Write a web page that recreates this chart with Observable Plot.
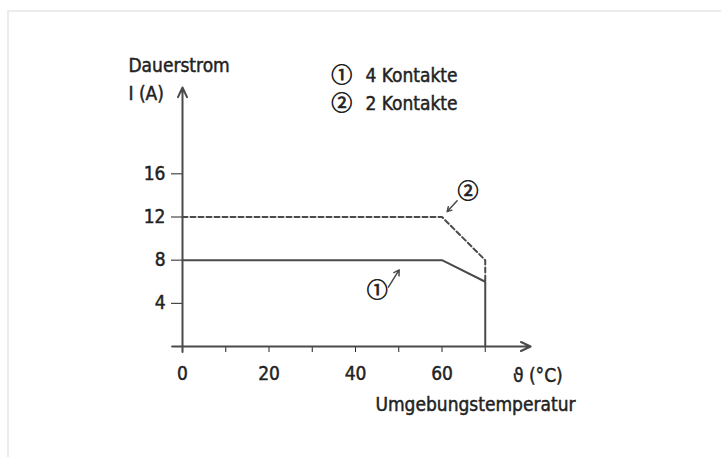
<!DOCTYPE html>
<html>
<head>
<meta charset="utf-8">
<script src="https://cdn.jsdelivr.net/npm/d3@7"></script>
<script src="https://cdn.jsdelivr.net/npm/@observablehq/plot@0.6"></script>
<style>
  html, body { margin: 0; padding: 0; background: #fff; }
  #wrap { position: relative; width: 721px; height: 457px; overflow: hidden; }
  #frame { position: absolute; left: 7px; top: 10px; width: 800px; height: 500px;
           border-top: 2px solid #ececec; border-left: 2px solid #ececec; pointer-events: none; }
  svg text { stroke: #222; stroke-width: 0.45px; }
  svg text.circ { stroke-width: 0.7px; }
</style>
</head>
<body>
<div id="wrap"><div id="frame"></div></div>
<script>
// Series: ambient temperature (°C) vs. continuous current (A)
const temp4 = [0, 60, 70, 70];
const current4 = [8, 8, 6, 0];        // ① 4 Kontakte (solid)
const temp2 = [0, 60, 70, 70];
const current2 = [12, 12, 8, 6];      // ② 2 Kontakte (dashed)

// Tick values
const xTicks = [0, 10, 20, 30, 40, 50, 60, 70];
const xTickLabels = [0, 20, 40, 60];
const yTicks = [4, 8, 12, 16];

// Text labels (in data units)
const labelTexts = ["Dauerstrom", "I (A)", "4 Kontakte", "2 Kontakte", "\u03D1 (°C)", "Umgebungstemperatur"];
const labelX = [-12.5, -12.5, 42.3, 42.3, 76.4, 44.6];
const labelY = [26.0, 23.4, 25.1, 22.5, -2.7, -5.4];

// Circled numbers: legend and curve markers
const circTexts = ["\u2460", "\u2461", "\u2460", "\u2461"];
const circX = [36.8, 36.8, 45.0, 66.0];
const circY = [25.1, 22.5, 5.2, 14.35];
const pointerX1 = [47.6, 63.5], pointerY1 = [5.5, 13.5];
const pointerX2 = [50.1, 61.2], pointerY2 = [7.1, 12.5];

// Axes arrows
const axisX1 = [-2.4, 0], axisY1 = [0, -0.5];
const axisX2 = [80.5, 0], axisY2 = [0, 24];

const s4 = temp4.map((t, i) => ({t, a: current4[i]}));
const s2 = temp2.map((t, i) => ({t, a: current2[i]}));
const labels = labelTexts.map((text, i) => ({text, x: labelX[i], y: labelY[i]}));
const circs = circTexts.map((text, i) => ({text, x: circX[i], y: circY[i]}));
const pointers = pointerX1.map((x1, i) => ({x1, y1: pointerY1[i], x2: pointerX2[i], y2: pointerY2[i]}));
const axes = axisX1.map((x1, i) => ({x1, y1: axisY1[i], x2: axisX2[i], y2: axisY2[i]}));

const ink = "#4a4a4a";
const font = "'Liberation Sans Narrow', 'DejaVu Sans Condensed', 'Roboto', sans-serif";

const chart = Plot.plot({
  width: 721,
  height: 457,
  marginLeft: 182,
  marginRight: 193,
  marginTop: 87,
  marginBottom: 111,
  style: {fontFamily: font, fontSize: "19px", color: "#222", background: "transparent", overflow: "visible"},
  x: {domain: [0, 80], ticks: xTicks, tickSize: 6, tickPadding: 14,
      tickFormat: d => xTickLabels.includes(d) ? String(d) : "", label: null},
  y: {domain: [0, 24], ticks: yTicks, tickSize: 11, tickPadding: 6, label: null},
  marks: [
    Plot.arrow(axes, {x1: "x1", y1: "y1", x2: "x2", y2: "y2", stroke: ink, strokeWidth: 2, headLength: 8, headAngle: 50}),
    Plot.line(s2, {x: "t", y: "a", stroke: ink, strokeWidth: 2, strokeDasharray: "5,3"}),
    Plot.line(s4, {x: "t", y: "a", stroke: ink, strokeWidth: 2}),
    Plot.arrow(pointers, {x1: "x1", y1: "y1", x2: "x2", y2: "y2", stroke: ink, strokeWidth: 1.5, headLength: 6, headAngle: 60}),
    Plot.text(circs, {x: "x", y: "y", text: "text", fill: "#222", fontSize: 21, fontFamily: "'Noto Sans CJK JP', sans-serif"}),
    Plot.text(labels, {x: "x", y: "y", text: "text", fill: "#222", textAnchor: "start", fontSize: 19})
  ]
});
chart.querySelectorAll("text").forEach(t => {
  if (["\u2460", "\u2461"].includes(t.textContent)) t.setAttribute("class", "circ");
});
chart.style.position = "absolute";
chart.style.left = "0px";
chart.style.top = "0px";
document.getElementById("wrap").appendChild(chart);
</script>
</body>
</html>
